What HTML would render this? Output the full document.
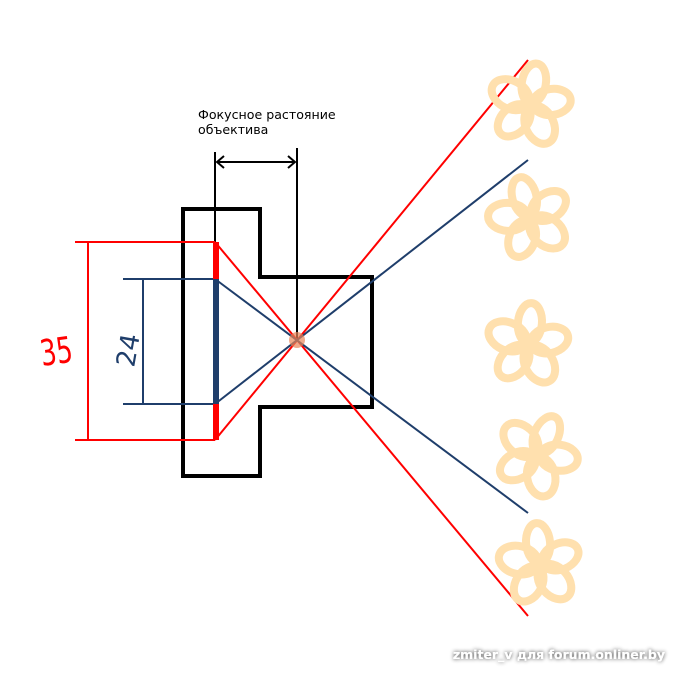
<!DOCTYPE html>
<html><head><meta charset="utf-8"><style>
html,body{margin:0;padding:0;background:#fff;}
svg{display:block;}
</style></head><body>
<svg width="688" height="677" viewBox="0 0 688 677" xmlns="http://www.w3.org/2000/svg">
<defs>
<g id="fl" fill="none" stroke="#ffe0ae" stroke-width="8" stroke-linecap="round">
<ellipse cx="0" cy="-22" rx="12" ry="20"/>
<ellipse cx="0" cy="-22" rx="13" ry="19" transform="rotate(72)"/>
<ellipse cx="0" cy="-22" rx="14" ry="20" transform="rotate(144)"/>
<ellipse cx="0" cy="-22" rx="13" ry="19" transform="rotate(216)"/>
<ellipse cx="0" cy="-22" rx="14" ry="20" transform="rotate(288)"/>
<circle cx="0" cy="0" r="10" fill="#ffe0ae" stroke="none"/>
</g>
<filter id="sh" x="-10%" y="-50%" width="120%" height="200%">
<feGaussianBlur in="SourceAlpha" stdDeviation="2"/>
<feComponentTransfer><feFuncA type="linear" slope="0.8"/></feComponentTransfer>
<feMerge><feMergeNode/><feMergeNode in="SourceGraphic"/></feMerge>
</filter>
</defs>
<path d="M183 209 H260 V277 H372 V407 H260 V476 H183 Z" fill="none" stroke="#000" stroke-width="4"/>
<line x1="215" y1="152" x2="215" y2="242" stroke="#000" stroke-width="2"/>
<line x1="297" y1="148" x2="297" y2="340" stroke="#000" stroke-width="2"/>
<line x1="217" y1="162" x2="295" y2="162" stroke="#000" stroke-width="2"/>
<path d="M224 156 L217 162 L224 168" fill="none" stroke="#000" stroke-width="2"/>
<path d="M288 156 L295 162 L288 168" fill="none" stroke="#000" stroke-width="2"/>
<text x="198" y="119" font-family="DejaVu Sans, sans-serif" font-size="12.6" fill="#000">Фокусное растояние</text>
<text x="198" y="134" font-family="DejaVu Sans, sans-serif" font-size="12.6" fill="#000">объектива</text>
<g stroke="#ff0000" stroke-width="2" fill="none">
<line x1="75" y1="242" x2="215" y2="242"/>
<line x1="75" y1="440" x2="215" y2="440"/>
<line x1="88" y1="242" x2="88" y2="440"/>
<line x1="215" y1="242" x2="528" y2="616"/>
<line x1="215" y1="440" x2="528" y2="60"/>
</g>
<g stroke="#1f3e6b" stroke-width="2" fill="none">
<line x1="123" y1="279" x2="215" y2="279"/>
<line x1="123" y1="404" x2="215" y2="404"/>
<line x1="143" y1="279" x2="143" y2="404"/>
<line x1="215" y1="279" x2="528" y2="513"/>
<line x1="215" y1="404" x2="528" y2="160"/>
</g>
<line x1="216" y1="242" x2="216" y2="440" stroke="#ff0000" stroke-width="6"/>
<line x1="216" y1="279" x2="216" y2="404" stroke="#1f3e6b" stroke-width="6"/>
<circle cx="297" cy="340" r="8" fill="#e8865a" opacity="0.7"/>
<text x="0" y="0" transform="translate(42,366) rotate(-8) scale(0.85,1.2)" font-family="DejaVu Sans, sans-serif" font-size="30" fill="#ff0000">35</text>
<text x="0" y="0" transform="translate(134,368) rotate(-80)" font-family="DejaVu Sans, sans-serif" font-size="26" fill="#1f3e6b">24</text>
<use href="#fl" transform="translate(530,105) rotate(10)"/>
<use href="#fl" transform="translate(530,218) rotate(-15)"/>
<use href="#fl" transform="translate(528,345) rotate(5)"/>
<use href="#fl" transform="translate(537,455) rotate(25)"/>
<use href="#fl" transform="translate(540,565) rotate(-5)"/>
<text x="665" y="659" text-anchor="end" font-family="DejaVu Sans, sans-serif" font-weight="bold" font-size="12.5" fill="#fff" filter="url(#sh)">zmiter_v для forum.onliner.by</text>
</svg>
</body></html>
